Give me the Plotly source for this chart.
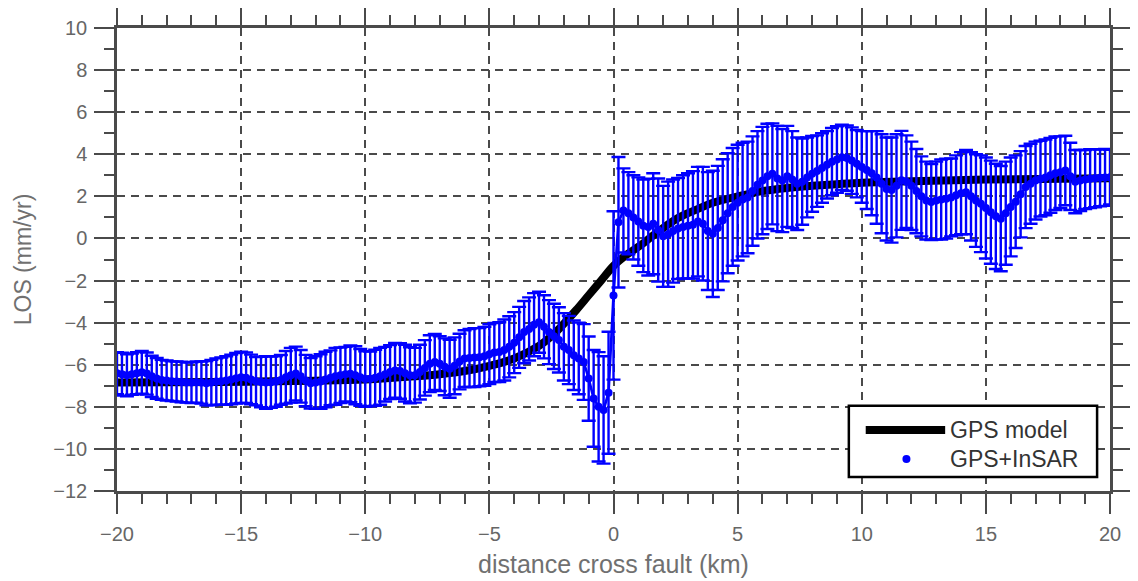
import plotly.graph_objects as go

# ---------------- data ----------------
# GPS+InSAR profile: samples every 0.2 km from -20 to 20 km
dist = [round(-20 + 0.2 * i, 1) for i in range(201)]

los = [
    -6.40, -6.45, -6.50, -6.45, -6.40, -6.36, -6.42, -6.55, -6.65, -6.72,
    -6.75, -6.78, -6.80, -6.82, -6.85, -6.85, -6.83, -6.85, -6.88, -6.85,
    -6.80, -6.78, -6.75, -6.70, -6.64, -6.60, -6.62, -6.70, -6.78, -6.82,
    -6.85, -6.83, -6.80, -6.72, -6.60, -6.50, -6.42, -6.55, -6.75, -6.88,
    -6.85,
    -6.80, -6.70, -6.62, -6.55, -6.50, -6.45, -6.43, -6.50, -6.60, -6.68,
    -6.67, -6.62, -6.55, -6.45, -6.35, -6.27, -6.30, -6.40, -6.50, -6.50,
    -6.35, -6.15, -5.95, -5.87, -5.95, -6.10, -6.19, -6.05, -5.85, -5.71,
    -5.68, -5.66, -5.64, -5.60, -5.50, -5.42, -5.40, -5.30, -5.15, -4.95,
    -4.70, -4.45, -4.30, -4.10, -3.98, -4.20, -4.45, -4.65, -4.82, -5.15,
    -5.30, -5.55, -5.70, -5.87, -6.66, -7.60, -8.00, -8.15, -7.33, -2.71,
    0.77, 1.33, 1.20, 1.00, 0.80, 0.60, 0.54, 0.70, 0.40, 0.10,
    0.20, 0.35, 0.47, 0.55, 0.60, 0.65, 0.80, 0.70, 0.35, 0.22,
    0.50, 0.86, 1.20, 1.50, 1.70, 1.85, 1.95, 2.25, 2.55, 2.75,
    2.95, 3.07, 2.85, 2.75, 2.95, 2.80, 2.60, 2.70, 2.90, 3.07,
    3.20, 3.35, 3.50, 3.65, 3.75, 3.86, 3.82, 3.70, 3.55, 3.40,
    3.25, 3.10, 2.90, 2.60, 2.35, 2.30, 2.50, 2.76, 2.70, 2.50,
    2.25, 2.00, 1.80, 1.73, 1.80, 1.85, 1.89, 1.95, 2.05, 2.15,
    2.20, 2.00, 1.80, 1.65, 1.45, 1.25, 1.05, 0.94, 1.20, 1.50,
    1.75, 2.10, 2.44, 2.60, 2.75, 2.84, 2.90, 3.00, 3.10, 3.15,
    3.23, 2.95, 2.70, 2.75, 2.80, 2.84, 2.86, 2.88, 2.90, 2.91,
]

los_err = [
    1.00, 1.02, 1.00, 0.98, 1.00, 1.02, 1.00, 0.98, 0.97, 0.95,
    0.95, 0.94, 0.95, 0.96, 0.95, 0.97, 0.98, 1.00, 1.05, 1.08,
    1.10, 1.12, 1.15, 1.18, 1.20, 1.22, 1.20, 1.18, 1.15, 1.20,
    1.25, 1.22, 1.20, 1.18, 1.25, 1.30, 1.28, 1.25, 1.22, 1.20,
    1.25,
    1.30, 1.32, 1.30, 1.35, 1.32, 1.30, 1.35, 1.38, 1.35, 1.32,
    1.30, 1.33, 1.35, 1.30, 1.28, 1.30, 1.32, 1.35, 1.33, 1.30,
    1.30, 1.32, 1.35, 1.33, 1.30, 1.35, 1.38, 1.35, 1.32, 1.35,
    1.38, 1.40, 1.38, 1.40, 1.42, 1.40, 1.42, 1.45, 1.45, 1.45,
    1.45, 1.48, 1.50, 1.50, 1.45, 1.50, 1.52, 1.55, 1.55, 1.60,
    1.62, 1.65, 1.70, 1.80, 2.00, 2.30, 2.60, 2.55, 2.90, 4.00,
    3.10, 2.00, 1.95, 2.00, 2.10, 2.20, 2.30, 2.40, 2.45, 2.40,
    2.50, 2.45, 2.40, 2.45, 2.50, 2.55, 2.60, 2.70, 2.80, 3.00,
    2.95, 2.90, 2.85, 2.80, 2.75, 2.70, 2.65, 2.60, 2.55, 2.55,
    2.50, 2.40, 2.50, 2.45, 2.40, 2.30, 2.20, 2.05, 1.90, 1.80,
    1.70, 1.65, 1.60, 1.60, 1.58, 1.55, 1.55, 1.58, 1.60, 1.70,
    1.85, 2.00, 2.20, 2.35, 2.45, 2.50, 2.45, 2.35, 2.20, 2.10,
    2.00, 1.90, 1.85, 1.80, 1.85, 1.90, 1.90, 1.85, 1.90, 1.95,
    2.00, 2.10, 2.20, 2.30, 2.40, 2.45, 2.50, 2.50, 2.45, 2.35,
    2.20, 2.05, 1.95, 1.90, 1.85, 1.80, 1.80, 1.78, 1.75, 1.70,
    1.65, 1.60, 1.50, 1.45, 1.40, 1.40, 1.38, 1.35, 1.35, 1.30,
]

# GPS model curve (read at a set of distances)
model_dist = [-20, -16, -12, -10, -8, -7, -6, -5, -4, -3, -2.5, -2, -1.5, -1,
              -0.5, 0, 0.5, 1, 1.5, 2, 2.5, 3, 3.5, 4, 5, 6, 7, 8, 9, 10, 12, 15, 20]
model_los = [-6.85, -6.82, -6.76, -6.70, -6.55, -6.45, -6.30, -6.05, -5.70, -5.10,
             -4.65, -4.05, -3.40, -2.70, -2.00, -1.30, -0.80, -0.40, 0.05, 0.50,
             0.90, 1.20, 1.45, 1.70, 2.00, 2.25, 2.40, 2.50, 2.58, 2.65, 2.72, 2.80, 2.86]

x_range = [-20, 20]
y_range = [-12, 10]
x_title = "distance cross fault (km)"
y_title = "LOS (mm/yr)"
legend_names = ["GPS model", "GPS+InSAR"]

# ---------------- styling ----------------
FONT = "Liberation Sans, Arial, Helvetica, sans-serif"
AX = "#4a4a4a"
TXT = "#666666"
GRID = "#4a4a4a"

fig = go.Figure()

fig.add_trace(go.Scatter(
    x=model_dist, y=model_los, mode="lines",
    line=dict(color="black", width=8, shape="spline", smoothing=1.0),
    name=legend_names[0], showlegend=False, hoverinfo="skip",
))

fig.add_trace(go.Scatter(
    x=dist, y=los, mode="lines+markers",
    line=dict(color="#0000ff", width=2.6),
    marker=dict(color="#0000ff", size=8),
    error_y=dict(type="data", array=los_err, visible=True,
                 color="#0000ff", thickness=2.4, width=7),
    name=legend_names[1], showlegend=False,
))

common = dict(
    showline=True, linecolor=AX, linewidth=2.5,
    ticks="outside", ticklen=20, tickwidth=2, tickcolor=AX,
    mirror="allticks", zeroline=False, automargin=False,
    showgrid=True, gridcolor=GRID, gridwidth=1.5, griddash="8px,6px",
    tickfont=dict(family=FONT, size=20, color=TXT),
)

fig.update_layout(
    width=1138, height=581,
    margin=dict(l=109, r=36, t=20, b=98),
    paper_bgcolor="white", plot_bgcolor="white",
    showlegend=False,
    font=dict(family=FONT, color=TXT),
    xaxis=dict(
        range=x_range, tickmode="linear", tick0=-20, dtick=5,
        minor=dict(dtick=1, ticks="outside", ticklen=10, tickwidth=2,
                   tickcolor=AX, showgrid=False),
        title=dict(text=x_title, font=dict(family=FONT, size=25, color="#707070"),
                   standoff=12),
        ticklabelstandoff=3,
        **common,
    ),
    yaxis=dict(
        range=y_range, tickmode="linear", tick0=-12, dtick=2,
        minor=dict(dtick=1, ticks="outside", ticklen=10, tickwidth=2,
                   tickcolor=AX, showgrid=False),
        title=dict(text=y_title, font=dict(family=FONT, size=23, color="#707070"),
                   standoff=16),
        ticklabelstandoff=3,
        **common,
    ),
    xaxis2=dict(
        range=x_range, overlaying="x", anchor="y2", tickmode="linear", tick0=-20, dtick=5,
        ticks="inside", ticklen=11, tickwidth=2, tickcolor=AX, mirror="ticks",
        showline=False, showgrid=False, zeroline=False, showticklabels=False,
        automargin=False,
    ),
    yaxis2=dict(
        range=y_range, overlaying="y", anchor="x2", tickmode="linear", tick0=-12, dtick=2,
        ticks="inside", ticklen=11, tickwidth=2, tickcolor=AX, mirror="ticks",
        showline=False, showgrid=False, zeroline=False, showticklabels=False,
        automargin=False,
    ),
)

# ---------------- legend box (drawn in paper coordinates) ----------------
lx0, lx1, ly0, ly1 = 0.737, 0.987, 0.030, 0.184
fig.add_shape(type="rect", xref="paper", yref="paper", x0=lx0, x1=lx1, y0=ly0, y1=ly1,
              line=dict(color="black", width=2.5), fillcolor="white", layer="above")
fig.add_shape(type="line", xref="paper", yref="paper", x0=0.754, x1=0.834, y0=0.132, y1=0.132,
              line=dict(color="black", width=8), layer="above")
fig.add_shape(type="circle", xref="paper", yref="paper", xsizemode="pixel", ysizemode="pixel",
              xanchor=0.795, yanchor=0.069, x0=-4, x1=4, y0=-4, y1=4,
              fillcolor="#0000ff", line=dict(color="#0000ff", width=0), layer="above")
fig.add_annotation(xref="paper", yref="paper", x=0.837, y=0.132, text=legend_names[0],
                   showarrow=False, xanchor="left", yanchor="middle",
                   font=dict(family=FONT, size=23, color="#333333"))
fig.add_annotation(xref="paper", yref="paper", x=0.837, y=0.069, text=legend_names[1],
                   showarrow=False, xanchor="left", yanchor="middle",
                   font=dict(family=FONT, size=23, color="#333333"))

fig.write_html("out.html")
